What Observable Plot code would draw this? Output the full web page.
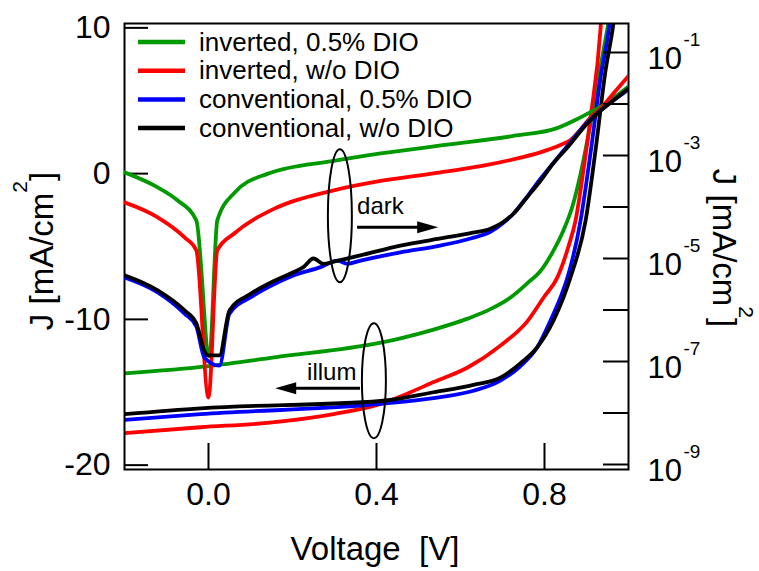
<!DOCTYPE html>
<html>
<head>
<meta charset="utf-8">
<script src="https://cdn.jsdelivr.net/npm/d3@7"></script>
<script src="https://cdn.jsdelivr.net/npm/@observablehq/plot@0.6"></script>
<style>
  html, body { margin: 0; padding: 0; background: #fff; }
  #chart { position: relative; width: 759px; height: 571px; }
  #chart svg { position: absolute; left: 0; top: 0; background: transparent; }
</style>
</head>
<body>
<div id="chart"></div>
<script>
// ---------------- data ----------------
const seriesNames = ["inverted, 0.5% DIO", "inverted, w/o DIO", "conventional, 0.5% DIO", "conventional, w/o DIO"];
const seriesColors = ["#009900", "#ff0000", "#0000ff", "#000000"];

// Illuminated J-V curves, [V, J mA/cm²] (left, linear axis)
const illumInv05 = [[-0.2,-13.7],[0,-13.2],[0.157,-12.6],[0.41,-11.6],[0.457,-11.3],[0.536,-10.7],[0.617,-9.95],[0.671,-9.3],[0.719,-8.5],[0.76,-7.5],[0.79,-6.7],[0.821,-5.3],[0.845,-3.9],[0.867,-2.2],[0.886,0.0],[0.91,3.5],[0.933,7.3],[0.952,10.3],[0.962,12]];
const illumInvNo = [[-0.2,-17.8],[-0.019,-17.4],[0.14,-17.1],[0.298,-16.5],[0.41,-15.8],[0.481,-15.0],[0.536,-14.3],[0.617,-13.3],[0.695,-11.8],[0.76,-10.1],[0.798,-8.5],[0.831,-7.1],[0.857,-5.0],[0.874,-3.2],[0.893,0.3],[0.91,3.9],[0.933,9.8],[0.938,12]];
const illumConv05 = [[-0.2,-16.9],[-0.019,-16.5],[0.41,-15.8],[0.536,-15.4],[0.631,-14.9],[0.695,-14.2],[0.743,-13.2],[0.783,-11.9],[0.814,-10.1],[0.838,-8.5],[0.855,-7.1],[0.886,-3.2],[0.91,1.5],[0.933,6.5],[0.955,10.3],[0.962,12]];
const illumConvNo = [[-0.2,-16.5],[-0.019,-16.1],[0.41,-15.6],[0.536,-15.0],[0.631,-14.5],[0.695,-14.0],[0.743,-13.0],[0.783,-11.9],[0.821,-10.1],[0.845,-8.5],[0.862,-7.1],[0.898,-3.2],[0.921,1.5],[0.945,7.0],[0.964,10.3],[0.971,12]];

// Dark J-V curves, [V, |J| mA/cm²] (right, log axis)
const darkInv05 = [[-0.2,4.7e-4],[-0.121,2.4e-4],[-0.074,1.35e-4],[-0.029,5.5e-5],[0.002,1.26e-7],[0.021,5.5e-5],[0.062,1.9e-4],[0.14,4.4e-4],[0.298,7.9e-4],[0.41,1.1e-3],[0.569,1.62e-3],[0.726,2.4e-3],[0.83,3.4e-3],[0.88,5.2e-3],[0.91,7.0e-3],[0.933,8.8e-3],[0.969,1.4e-2],[1.0,2.2e-2]];
const darkInvNo = [[-0.2,1.23e-4],[-0.121,6.3e-5],[-0.057,2.57e-5],[-0.029,1.45e-5],[0.0,2.0e-8],[0.021,1.45e-5],[0.062,3.1e-5],[0.157,9.3e-5],[0.298,2.1e-4],[0.41,3.2e-4],[0.536,4.5e-4],[0.648,6.2e-4],[0.743,9.1e-4],[0.79,1.15e-3],[0.838,1.6e-3],[0.862,2.0e-3],[0.886,3.2e-3],[0.91,5.5e-3],[0.933,8.1e-3],[0.964,1.6e-2],[1.0,3.5e-2]];
const darkConv05 = [[-0.2,4.3e-6],[-0.121,2.2e-6],[-0.057,8.5e-7],[-0.029,4.8e-7],[-0.01,1.2e-7],[0.026,8.3e-8],[0.05,8.5e-7],[0.102,1.8e-6],[0.157,3.2e-6],[0.202,4.7e-6],[0.267,6.8e-6],[0.307,9.1e-6],[0.331,7.9e-6],[0.362,9.1e-6],[0.457,1.32e-5],[0.552,1.78e-5],[0.624,2.45e-5],[0.671,3.3e-5],[0.70,4.8e-5],[0.726,7.4e-5],[0.76,1.65e-4],[0.79,3.5e-4],[0.82,7.0e-4],[0.855,1.55e-3],[0.902,4.4e-3],[0.933,7.4e-3],[0.964,1.17e-2],[1.0,1.9e-2]];
const darkConvNo = [[-0.2,4.7e-6],[-0.121,2.4e-6],[-0.057,9.8e-7],[-0.029,5.5e-7],[-0.01,1.62e-7],[-0.002,1.32e-7],[0.026,1.32e-7],[0.05,9.8e-7],[0.102,2.1e-6],[0.157,3.7e-6],[0.202,5.4e-6],[0.226,6.8e-6],[0.25,1.0e-5],[0.274,7.9e-6],[0.298,8.7e-6],[0.362,1.15e-5],[0.457,1.78e-5],[0.552,2.45e-5],[0.624,3.1e-5],[0.671,3.8e-5],[0.70,5.0e-5],[0.726,7.4e-5],[0.76,1.6e-4],[0.79,3.2e-4],[0.82,6.9e-4],[0.855,1.45e-3],[0.902,4.2e-3],[0.933,7.4e-3],[0.964,1.17e-2],[1.0,2.0e-2]];

// axis ticks / labels
const xTicks = [0, 0.4, 0.8];
const leftTicks = [10, 0, -10, -20];
const rightTicks = [1e-1, 1e-2, 1e-3, 1e-4, 1e-5, 1e-6, 1e-7, 1e-8, 1e-9];
const rightLabels = [1e-1, 1e-3, 1e-5, 1e-7, 1e-9];
const xTitle = "Voltage\u00a0 [V]";
const yTitleMain = "J [mA/cm";
const yTitleSup = "2";
const yTitleEnd = "]";

// ---------------- build ----------------
const FONT = "'Liberation Sans', Arial, Helvetica, sans-serif";
const toRows = (arr, s) => arr.map(([v, j]) => ({v, j, s}));
const illum = [illumInv05, illumInvNo, illumConv05, illumConvNo].flatMap((a, i) => toRows(a, seriesNames[i]));
const dark = [darkInv05, darkInvNo, darkConv05, darkConvNo].flatMap((a, i) => toRows(a, seriesNames[i]));

const common = {
  width: 759, height: 571,
  marginLeft: 124, marginRight: 131, marginTop: 23, marginBottom: 102,
  style: {fontFamily: FONT, background: "transparent", color: "black", overflow: "visible"},
  x: {domain: [-0.2, 1.0], axis: null},
  color: {domain: seriesNames, range: seriesColors}
};

const plotA = Plot.plot({
  ...common,
  y: {domain: [-20.3, 10.3], axis: null},
  marks: [
    Plot.line(illum, {x: "v", y: "j", z: "s", stroke: "s", strokeWidth: 3.8, curve: "monotone-x", clip: true}),
    Plot.frame({stroke: "black", strokeWidth: 2}),
    Plot.tickY(leftTicks, {y: d => d, insetRight: 480, stroke: "black", strokeWidth: 2}),
    Plot.tickX(xTicks, {x: d => d, insetTop: 420, stroke: "black", strokeWidth: 2}),
    Plot.text(leftTicks, {y: d => d, text: d => String(d), frameAnchor: "left", textAnchor: "end", dx: -14, fontSize: 32, fill: "black"}),
    Plot.text(xTicks, {x: d => d, text: d => d.toFixed(1), frameAnchor: "bottom", dy: 35, fontSize: 32, fill: "black"})
  ]
});

const plotB = Plot.plot({
  ...common,
  y: {type: "log", domain: [8.0e-10, 0.3656], axis: null},
  marks: [
    Plot.line(dark, {x: "v", y: "j", z: "s", stroke: "s", strokeWidth: 3.8, curve: "monotone-x", clip: true}),
    Plot.tickY(rightTicks, {y: d => d, insetLeft: 479, stroke: "black", strokeWidth: 2}),
    Plot.text(rightLabels, {y: d => d, text: () => "10", frameAnchor: "right", textAnchor: "start", dx: 19, dy: 6.5, fontSize: 31, fill: "black"}),
    Plot.text(rightLabels, {y: d => d, text: d => String(Math.round(Math.log10(d))), frameAnchor: "right", textAnchor: "start", dx: 55, dy: -13, fontSize: 19, fill: "black"})
  ]
});

const chart = document.getElementById("chart");
chart.appendChild(plotA);
chart.appendChild(plotB);

// ---------------- annotations (positions from plot A's scales) ----------------
const sx = plotA.scale("x"), sy = plotA.scale("y");
const X = d3.scaleLinear(sx.domain, sx.range);
const Y = d3.scaleLinear(sy.domain, sy.range);
const gA = d3.select(plotB).append("g").attr("font-family", FONT).attr("text-anchor", "start");

function ellipse(v, j, rx, ry) {
  gA.append("ellipse").attr("cx", X(v)).attr("cy", Y(j)).attr("rx", rx).attr("ry", ry)
    .attr("fill", "none").attr("stroke", "black").attr("stroke-width", 2);
}
function arrow(v1, v2, j) {
  const x1 = X(v1), x2 = X(v2), y = Y(j), dir = Math.sign(x2 - x1), L = 21, hw = 6;
  gA.append("line").attr("x1", x1).attr("x2", x2 - dir * (L - 2)).attr("y1", y).attr("y2", y)
    .attr("stroke", "black").attr("stroke-width", 3);
  gA.append("path").attr("d", `M${x2},${y}L${x2 - dir * L},${y - hw}L${x2 - dir * L},${y + hw}Z`).attr("fill", "black");
}
function label(v, j, t, size) {
  gA.append("text").attr("x", X(v)).attr("y", Y(j)).attr("font-size", size)
    .attr("text-anchor", "start").attr("fill", "black").text(t);
}
ellipse(0.314, -2.92, 12, 66.5);
ellipse(0.395, -14.24, 12, 57.5);
label(0.355, -2.81, "dark", 24);
arrow(0.355, 0.548, -3.71);
label(0.236, -14.21, "illum", 24);
arrow(0.362, 0.160, -14.76);

// ---------------- legend ----------------
const lg = d3.select(plotB).append("g").attr("font-family", FONT).attr("text-anchor", "start");
seriesNames.forEach((name, i) => {
  const y = 42 + i * 28.7;
  lg.append("line").attr("x1", 138).attr("x2", 185).attr("y1", y).attr("y2", y)
    .attr("stroke", seriesColors[i]).attr("stroke-width", 4.5);
  lg.append("text").attr("x", 199).attr("y", y + 8.5).attr("font-size", 26)
    .attr("text-anchor", "start").attr("fill", "black").text(name);
});

// ---------------- axis titles ----------------
function yTitle(svg, x, y, rot) {
  const t = d3.select(svg).append("text").attr("transform", `translate(${x},${y}) rotate(${rot})`)
    .attr("text-anchor", "middle").attr("font-family", FONT).attr("font-size", 33).attr("fill", "black");
  t.append("tspan").text(yTitleMain);
  t.append("tspan").attr("font-size", 21).attr("dy", -26).text(yTitleSup);
  t.append("tspan").attr("dy", 26).text(yTitleEnd);
}
yTitle(plotA, 53, 251, -90);
yTitle(plotB, 713, 248, 90);
d3.select(plotA).append("text").attr("x", 375).attr("y", 560).attr("text-anchor", "middle")
  .attr("font-family", FONT).attr("font-size", 33).attr("fill", "black").text(xTitle);
</script>
</body>
</html>
